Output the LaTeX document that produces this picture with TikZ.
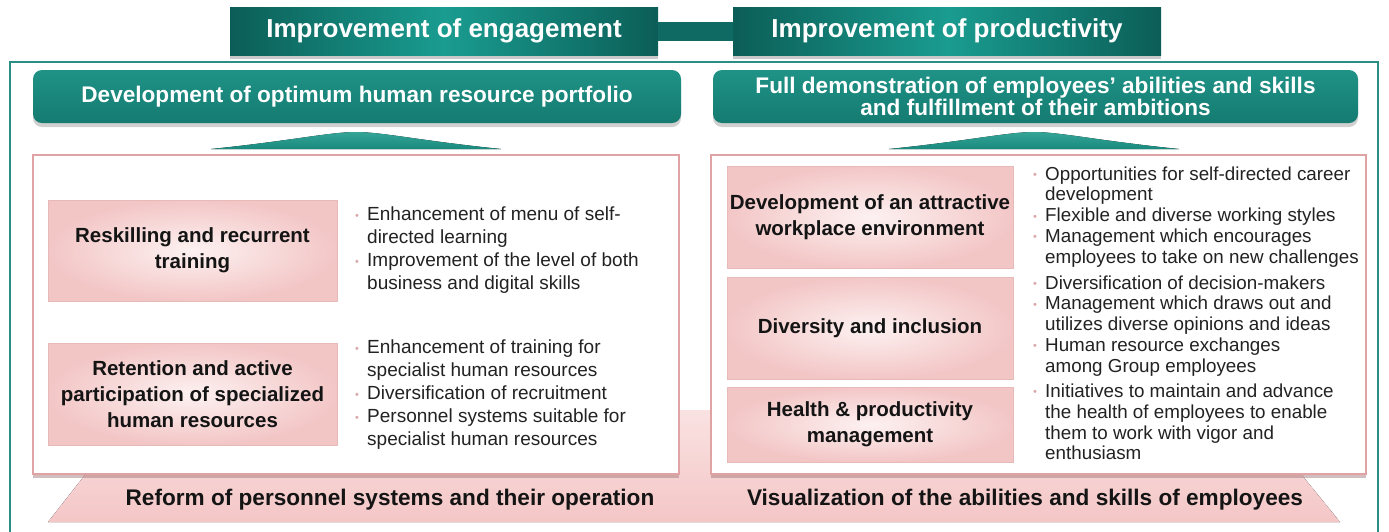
\documentclass[tikz,border=0pt]{standalone}
\usepackage{fontspec}
\setmainfont{Liberation Sans}
\usetikzlibrary{shadows}
\definecolor{hdark}{HTML}{0B5E57}
\definecolor{hlight}{HTML}{1A9C90}
\definecolor{bartl}{HTML}{0E6A62}
\definecolor{btealt}{HTML}{1F9286}
\definecolor{btealb}{HTML}{157B71}
\definecolor{framec}{HTML}{2B8E84}
\definecolor{pinkb}{HTML}{E0A2A2}
\definecolor{pinkc}{HTML}{FDF1F1}
\definecolor{pinke}{HTML}{F3C6C6}
\definecolor{bandt}{HTML}{FAE2E2}
\definecolor{bandb}{HTML}{F4C6C6}
\definecolor{bul}{HTML}{D9A9A9}
\definecolor{txt}{HTML}{222222}
\definecolor{trit}{HTML}{33A597}
\definecolor{trib}{HTML}{1A897D}
\newcommand{\bl}{\makebox[12pt][l]{\raisebox{1.5pt}{\textcolor{bul}{\fontsize{11}{11}\selectfont•}}}}
\tikzset{
  hdr/.style={rectangle, minimum width=428pt, minimum height=48pt, inner sep=0pt,
    left color=hdark, right color=hdark, middle color=hlight, text=white,
    font=\bfseries\fontsize{26}{30}\selectfont,
    drop shadow={shadow xshift=0pt, shadow yshift=-4pt, opacity=0.35, fill=black!60}},
  banner/.style={rectangle, rounded corners=9pt, minimum height=53pt, inner sep=0pt,
    top color=btealt, bottom color=btealb, text=white, align=center,
    font=\bfseries\fontsize{22.6}{22}\selectfont,
    drop shadow={shadow xshift=0pt, shadow yshift=-4pt, opacity=0.3, fill=black!60}},
  wbox/.style={rectangle, draw=pinkb, line width=1.2pt, fill=white, inner sep=0pt,
    drop shadow={shadow xshift=0pt, shadow yshift=-4pt, opacity=0.45, fill=pinkb!70!black}},
  pbox/.style={rectangle, draw=pinkb!75, line width=0.8pt, inner sep=0pt,
    inner color=pinkc, outer color=pinke, align=center, text=black!92,
    font=\bfseries\fontsize{20.5}{26}\selectfont},
  ltext/.style={anchor=west, inner sep=0pt, text=txt, font=\fontsize{19}{23}\selectfont},
  rtext/.style={anchor=west, inner sep=0pt, text=txt, font=\fontsize{18.8}{20.8}\selectfont},
  btext/.style={inner sep=0pt, text=black!92, font=\bfseries\fontsize{22.6}{26}\selectfont},
  tri/.style={top color=trit, bottom color=trib}
}
\begin{document}
\begin{tikzpicture}[x=1pt,y=-1pt]
\useasboundingbox (0,0) rectangle (1389,531);
\fill[white] (0,0) rectangle (1389,531);
% outer frame
\draw[framec, line width=2.5pt, fill=white] (10,62) rectangle (1378,545);
% bottom band
\fill[top color=bandt, bottom color=bandb] (136,410) -- (1249,410) -- (1340,522) -- (48,522) -- cycle;
% white containers
\node[wbox, minimum width=646pt, minimum height=319pt] (lbox) at (356,314.5) {};
\node[wbox, minimum width=655pt, minimum height=319pt] (rbox) at (1038.5,314.5) {};
% pink boxes left
\node[pbox, minimum width=289pt, minimum height=101pt] (p1) at (192.5,250.5) {Reskilling and recurrent\\training};
\node[pbox, minimum width=289pt, minimum height=102pt] (p2) at (192.5,394) {Retention and active\\participation of specialized\\human resources};
% pink boxes right
\node[pbox, minimum width=286pt, minimum height=102pt] (p3) at (870,217) {Development of an attractive\\workplace environment};
\node[pbox, minimum width=286pt, minimum height=102pt] (p4) at (870,328) {Diversity and inclusion};
\node[pbox, minimum width=286pt, minimum height=75pt] (p5) at (870,424.5) {Health \& productivity\\management};
% bullet texts left
\node[ltext] (t1) at (355,250.5) {\begin{tabular}{@{}l@{}l@{}}\bl & Enhancement of menu of self-\\ & directed learning\\ \bl & Improvement of the level of both\\ & business and digital skills\end{tabular}};
\node[ltext] (t2) at (355,395) {\begin{tabular}{@{}l@{}l@{}}\bl & Enhancement of training for\\ & specialist human resources\\ \bl & Diversification of recruitment\\ \bl & Personnel systems suitable for\\ & specialist human resources\end{tabular}};
% bullet texts right
\node[rtext] (t3) at (1033,217.5) {\begin{tabular}{@{}l@{}l@{}}\bl & Opportunities for self-directed career\\ & development\\ \bl & Flexible and diverse working styles\\ \bl & Management which encourages\\ & employees to take on new challenges\end{tabular}};
\node[rtext] (t4) at (1033,326.5) {\begin{tabular}{@{}l@{}l@{}}\bl & Diversification of decision-makers\\ \bl & Management which draws out and\\ & utilizes diverse opinions and ideas\\ \bl & Human resource exchanges\\ & among Group employees\end{tabular}};
\node[rtext] (t5) at (1033,424.5) {\begin{tabular}{@{}l@{}l@{}}\bl & Initiatives to maintain and advance\\ & the health of employees to enable\\ & them to work with vigor and\\ & enthusiasm\end{tabular}};
% bottom texts
\node[btext] (b1) at (390,500) {Reform of personnel systems and their operation};
\node[btext] (b2) at (1025,500) {Visualization of the abilities and skills of employees};
% triangles
\fill[tri] (211,149) .. controls (290,141) and (330,132) .. (356,132) .. controls (382,132) and (422,141) .. (501,149) -- cycle;
\fill[tri] (889,149) .. controls (968,141) and (1008,132) .. (1034,132) .. controls (1060,132) and (1100,141) .. (1179,149) -- cycle;
% banners
\node[banner, minimum width=648pt] (bl) at (357,96.5) {Development of optimum human resource portfolio};
\node[banner, minimum width=645pt] (br) at (1035.5,96.5) {Full demonstration of employees' abilities and skills\\and fulfillment of their ambitions};
% headers
\node[hdr] (hl) at (444,31) {Improvement of engagement};
\node[hdr] (hr) at (947,31) {Improvement of productivity};
\draw[bartl, line width=19pt] (hl.east) -- (hr.west);
\end{tikzpicture}
\end{document}
